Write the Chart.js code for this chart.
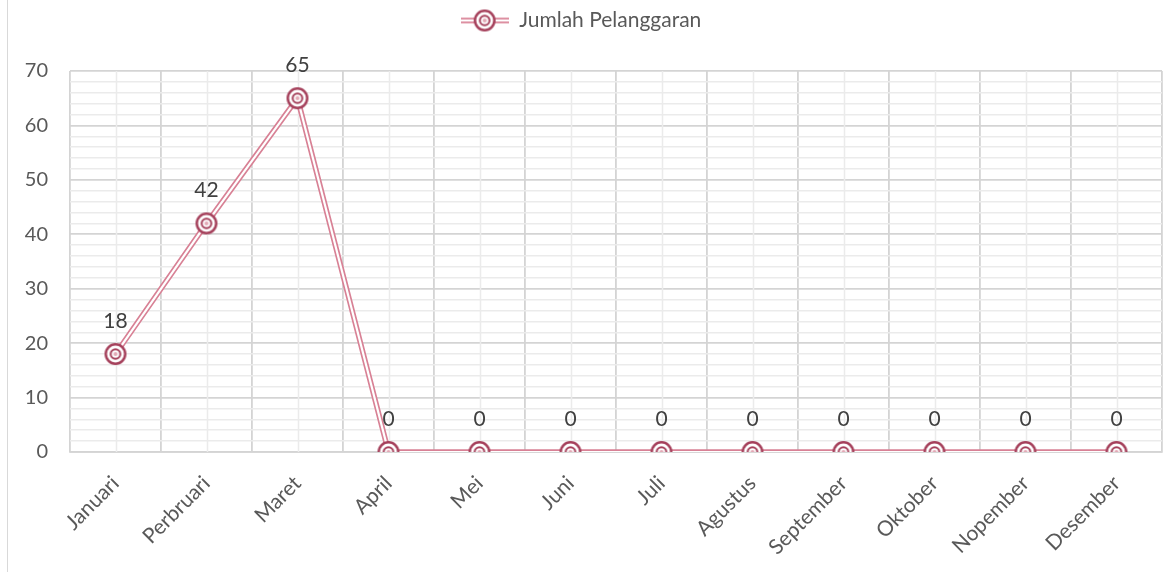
<!DOCTYPE html>
<html>
<head>
<meta charset="utf-8">
<script src="https://cdn.jsdelivr.net/npm/chart.js@4.4.0/dist/chart.umd.min.js"></script>
<style>
  html, body { margin: 0; padding: 0; background: #fff; }
  #wrap { position: relative; width: 1164px; height: 572px; }
  #edge { position: absolute; left: 7px; top: 0; width: 1px; height: 572px; background: #d9d9d9; }
  canvas { position: absolute; left: 0; top: 0; }
</style>
</head>
<body>
<div id="wrap">
  <div id="edge"></div>
  <canvas id="chart" width="1164" height="572"></canvas>
</div>
<script>
// data
const bulan = ['Januari', 'Perbruari', 'Maret', 'April', 'Mei', 'Juni', 'Juli', 'Agustus', 'September', 'Oktober', 'Nopember', 'Desember'];
const pelanggaran = [18, 42, 65, 0, 0, 0, 0, 0, 0, 0, 0, 0];
const seriesName = 'Jumlah Pelanggaran';

const lineColor = '#d88195';
const markColor = '#a5405b';
const fontName = 'Lato, "Open Sans", sans-serif';

// marker: double ring (bullseye)
function makeMarker() {
    const c = document.createElement('canvas');
    c.width = 26; c.height = 26;
    const g = c.getContext('2d');
    g.fillStyle = '#fff';
    g.beginPath(); g.arc(13, 13, 9.7, 0, Math.PI * 2); g.fill();
    g.strokeStyle = markColor;
    g.lineWidth = 2.5;
    g.beginPath(); g.arc(13, 13, 9.7, 0, Math.PI * 2); g.stroke();
    g.lineWidth = 2;
    g.beginPath(); g.arc(13, 13, 4.8, 0, Math.PI * 2); g.stroke();
    g.fillStyle = '#e3a9b6';
    g.beginPath(); g.arc(13, 13, 2, 0, Math.PI * 2); g.fill();
    return c;
}

// legend glyph: double line + marker
function makeLegendGlyph() {
    const c = document.createElement('canvas');
    c.width = 48; c.height = 26;
    const g = c.getContext('2d');
    g.strokeStyle = lineColor; g.lineWidth = 5.5;
    g.beginPath(); g.moveTo(0, 13); g.lineTo(48, 13); g.stroke();
    g.strokeStyle = '#fff'; g.lineWidth = 2.2;
    g.beginPath(); g.moveTo(0, 13); g.lineTo(48, 13); g.stroke();
    g.drawImage(makeMarker(), 11, 0);
    return c;
}

const marker = makeMarker();
const legendGlyph = makeLegendGlyph();

// extra room under the legend
const legendGap = {
    id: 'legendGap',
    beforeInit(chart) {
        const fit = chart.legend.fit;
        chart.legend.fit = function () {
            fit.bind(chart.legend)();
            this.height += 30;
        };
    }
};

// minor vertical lines at category centres
const minorGrid = {
    id: 'minorGrid',
    beforeDatasetsDraw(chart) {
        const ctx = chart.ctx, x = chart.scales.x, a = chart.chartArea;
        ctx.save();
        ctx.strokeStyle = '#ebebeb';
        ctx.lineWidth = 1.5;
        bulan.forEach((b, i) => {
            const px = Math.round(x.getPixelForValue(i)) + 0.5;
            ctx.beginPath(); ctx.moveTo(px, a.top); ctx.lineTo(px, a.bottom); ctx.stroke();
        });
        ctx.restore();
    }
};

// value labels above markers
const valueLabels = {
    id: 'valueLabels',
    afterDatasetsDraw(chart) {
        const ctx = chart.ctx;
        const meta = chart.getDatasetMeta(2);
        ctx.save();
        ctx.fillStyle = '#404040';
        ctx.font = '21px ' + fontName;
        ctx.textAlign = 'center';
        ctx.textBaseline = 'middle';
        meta.data.forEach((p, i) => {
            ctx.fillText(String(pelanggaran[i]), p.x, p.y - 33);
        });
        ctx.restore();
    }
};

new Chart(document.getElementById('chart'), {
    type: 'line',
    data: {
        labels: bulan,
        datasets: [
            { label: seriesName, data: pelanggaran, borderColor: lineColor, borderWidth: 5.5,
              pointRadius: 0, tension: 0, order: 3 },
            { label: 'inner', data: pelanggaran, borderColor: '#fff', borderWidth: 2.2,
              pointRadius: 0, tension: 0, order: 2 },
            { label: 'marks', data: pelanggaran, showLine: false, pointStyle: marker,
              pointRadius: 10, order: 1 }
        ]
    },
    plugins: [legendGap, minorGrid, valueLabels],
    options: {
        responsive: false,
        animation: false,
        layout: { autoPadding: false, padding: { top: 0, right: 2, left: 0, bottom: 0 } },
        plugins: {
            tooltip: { enabled: false },
            legend: {
                position: 'top',
                onClick: null,
                labels: {
                    usePointStyle: true,
                    pointStyleWidth: 48,
                    padding: 10,
                    color: '#595959',
                    font: { family: fontName, size: 21 },
                    generateLabels: () => [{
                        text: seriesName, pointStyle: legendGlyph, fontColor: '#595959',
                        datasetIndex: 0, hidden: false, lineWidth: 0
                    }]
                }
            }
        },
        scales: {
            x: {
                offset: true,
                grid: { offset: true, color: '#d4d4d4', lineWidth: 1.8, drawTicks: false },
                border: { color: '#d4d4d4', width: 1.8 },
                ticks: {
                    color: '#595959', font: { family: fontName, size: 21 },
                    minRotation: 45, maxRotation: 45, padding: 19, autoSkip: false
                },
                afterFit(s) { s.height = 120; s.paddingLeft = 0; s.paddingRight = 0; }
            },
            y: {
                min: 0, max: 70,
                grid: {
                    drawTicks: false,
                    lineWidth: c => (c.tick && c.tick.value % 10 === 0) ? 1.8 : 1.5,
                    color: c => (c.tick && c.tick.value % 10 === 0) ? '#d4d4d4' : '#ebebeb'
                },
                border: { display: false },
                ticks: {
                    stepSize: 2, autoSkip: false, padding: 22,
                    color: '#595959', font: { family: fontName, size: 20 },
                    callback: v => (v % 10 === 0 ? v : '')
                },
                afterFit(s) { s.width = 70; }
            }
        }
    }
});
</script>
</body>
</html>
